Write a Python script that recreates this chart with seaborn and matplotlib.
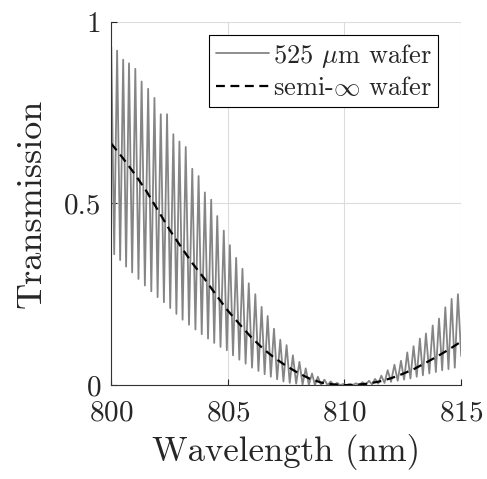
import numpy as np
import pandas as pd
import seaborn as sns
import matplotlib
matplotlib.use("Agg")
import matplotlib.pyplot as plt

# fringe maxima of the 525 um wafer curve (nm, transmission)
peak_wl = [800.01, 800.26, 800.52, 800.77, 801.04, 801.31, 801.59, 801.86,
           802.13, 802.40, 802.67, 802.93, 803.20, 803.48, 803.75, 804.02,
           804.29, 804.55, 804.83, 805.09, 805.36, 805.63, 805.90, 806.18,
           806.45, 806.71, 806.98, 807.25, 807.52, 807.79, 808.07, 808.34,
           808.61, 808.86, 809.14, 809.41, 809.68, 809.95, 810.22, 810.49,
           810.77, 811.05, 811.31, 811.58, 811.85, 812.14, 812.42, 812.69,
           812.96, 813.23, 813.49, 813.78, 814.05, 814.32, 814.59, 814.86]
peak_T = [0.93, 0.92, 0.895, 0.885, 0.87, 0.835, 0.815, 0.79,
          0.745, 0.745, 0.69, 0.67, 0.655, 0.595, 0.575, 0.53,
          0.51, 0.465, 0.425, 0.385, 0.35, 0.32, 0.28, 0.25,
          0.215, 0.19, 0.155, 0.125, 0.11, 0.082, 0.064, 0.046,
          0.032, 0.023, 0.015, 0.01, 0.006, 0.003, 0.003, 0.005,
          0.008, 0.012, 0.017, 0.026, 0.041, 0.056, 0.067, 0.09,
          0.107, 0.128, 0.142, 0.164, 0.183, 0.214, 0.237, 0.25]
# fringe minima, one between each pair of maxima
trough_T = [0.36, 0.344, 0.326, 0.31, 0.292, 0.274, 0.258, 0.242, 0.228,
            0.212, 0.196, 0.18, 0.166, 0.153, 0.14, 0.128, 0.116, 0.105,
            0.096, 0.082, 0.07, 0.059, 0.048, 0.039, 0.03, 0.023, 0.016,
            0.010, 0.006, 0.004, 0.002, 0.001, 0.0, 0.0, 0.0, 0.0,
            0.0, 0.0, 0.0, 0.0, 0.001, 0.002, 0.004, 0.006, 0.009,
            0.012, 0.015, 0.018, 0.023, 0.027, 0.032, 0.036, 0.041, 0.044, 0.048]
end_wl = 815.0
end_T = 0.08

# semi-infinite wafer
semi_wl = [800.0, 800.5, 801.0, 801.5, 802.0, 802.5, 803.0, 803.5, 804.0,
           804.5, 805.0, 805.5, 806.0, 806.5, 807.0, 807.5, 808.0, 808.5,
           809.0, 809.5, 810.0, 810.5, 811.0, 811.5, 812.0, 812.5, 813.0,
           813.5, 814.0, 814.5, 815.0]
semi_T = [0.665, 0.625, 0.582, 0.535, 0.482, 0.428, 0.38, 0.334, 0.293,
          0.248, 0.205, 0.168, 0.132, 0.101, 0.075, 0.053, 0.034, 0.018,
          0.007, 0.002, 0.0, 0.001, 0.004, 0.010, 0.019, 0.031, 0.045,
          0.062, 0.080, 0.099, 0.12]

# interleave maxima and minima
wl, T = [], []
for i in range(len(peak_wl)):
    wl.append(peak_wl[i])
    T.append(peak_T[i])
    if i < len(trough_T):
        wl.append((peak_wl[i] + peak_wl[i + 1]) / 2)
        T.append(trough_T[i])
wl.append(end_wl)
T.append(end_T)
wafer = pd.DataFrame({"wl": wl, "T": T})
semi = pd.DataFrame({"wl": semi_wl, "T": semi_T})

sns.set_style("ticks")
plt.rcParams["font.family"] = "serif"
plt.rcParams["font.serif"] = ["cmr10", "DejaVu Serif"]
plt.rcParams["mathtext.fontset"] = "cm"
plt.rcParams["axes.formatter.use_mathtext"] = True

fig = plt.figure(figsize=(4.87, 4.79), dpi=100)
ax = fig.add_axes([0.228, 0.196, 0.719, 0.759])

sns.lineplot(data=wafer, x="wl", y="T", ax=ax, color="#858585", lw=1.3,
             estimator=None, sort=False, label=r"525 $\mu$m wafer")
sns.lineplot(data=semi, x="wl", y="T", ax=ax, color="black", lw=1.6,
             ls=(0, (4, 2.5)), estimator=None, label=r"semi-$\infty$ wafer")

ax.set_xlim(800, 815)
ax.set_ylim(0, 1)
ax.set_xticks([800, 805, 810, 815])
ax.set_yticks([0, 0.5, 1])
ax.set_yticklabels(["0", "0.5", "1"])
ax.grid(True, color="#dcdcdc", lw=0.8)
ax.tick_params(direction="in", length=4, labelsize=21, pad=7)
ax.tick_params(axis="x", pad=11)
sns.despine(ax=ax)
for s in ("left", "bottom"):
    ax.spines[s].set_color("#333333")
    ax.spines[s].set_linewidth(0.8)
ax.set_xlabel("Wavelength (nm)", fontsize=25, labelpad=5)
ax.set_ylabel("Transmission", fontsize=26, labelpad=12)

leg = ax.legend(loc="upper right", bbox_to_anchor=(0.934, 0.963),
                fontsize=19, frameon=True, fancybox=False,
                handlelength=2.0, handletextpad=0.15, borderpad=0.25,
                labelspacing=0.25, borderaxespad=0.0)
leg.get_frame().set_edgecolor("black")
leg.get_frame().set_linewidth(0.8)
leg.get_frame().set_alpha(1)

fig.savefig("out.png", dpi=100)
